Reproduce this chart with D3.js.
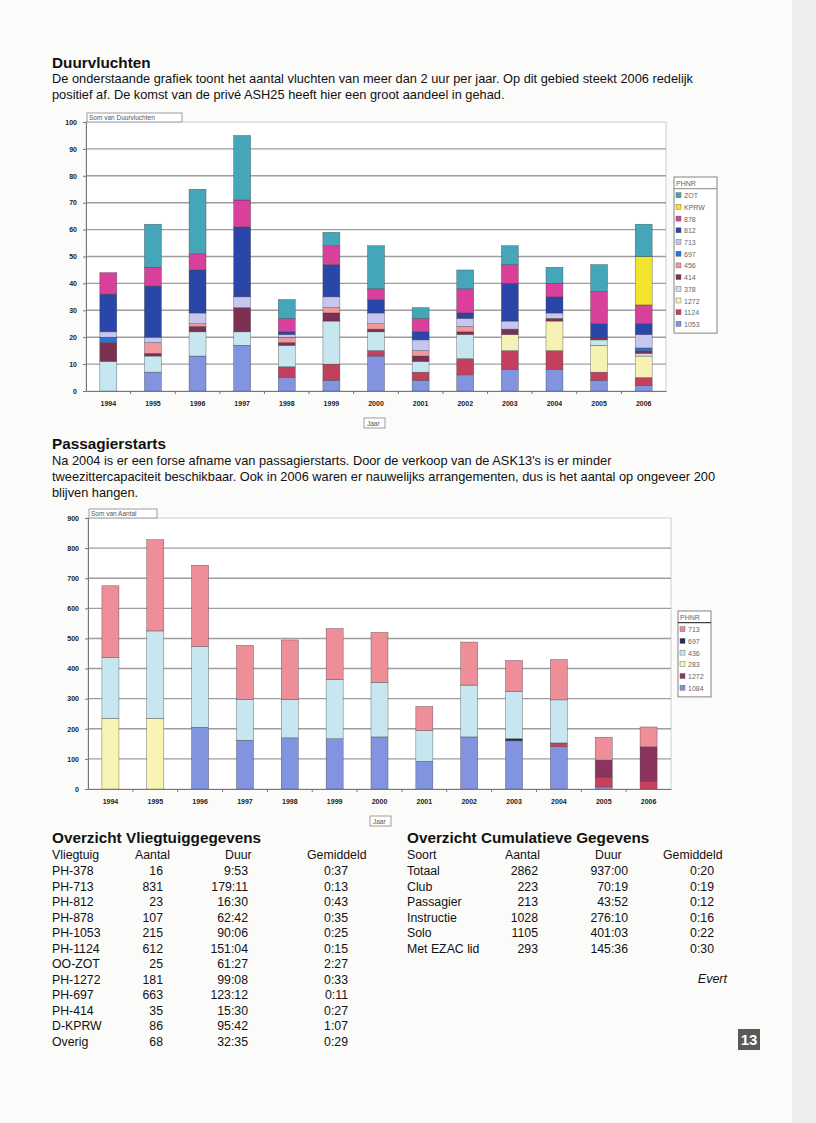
<!DOCTYPE html>
<html>
<head>
<meta charset="utf-8">
<script src="https://d3js.org/d3.v7.min.js"></script>
<style>
  body { margin: 0; background: #fbfbfa; }
  svg text { font-family: "Liberation Sans", Arial, sans-serif; }
</style>
</head>
<body>
<div id="page"></div>
<script>
// ---- data ----
var years = ["1994","1995","1996","1997","1998","1999","2000","2001","2002","2003","2004","2005","2006"];

// Duurvluchten, series bottom -> top
var durKeys = ["1053","1124","1272","378","414","456","697","713","812","878","KPRW","ZOT"];
var dur1053 = [0,7,13,17,5,4,13,4,6,8,8,4,2];
var dur1124 = [0,0,0,0,4,6,2,3,6,7,7,3,3];
var dur1272 = [0,0,0,0,0,0,0,0,0,6,11,10,8];
var dur378  = [11,6,9,5,8,16,7,4,9,0,0,2,1];
var dur414  = [7,1,2,9,1,3,1,2,1,2,1,1,1];
var dur456  = [0,4,1,0,2,2,2,2,2,0,0,0,0];
var dur697  = [2,0,0,0,0,0,0,0,0,0,0,0,1];
var dur713  = [2,2,4,4,1,4,4,4,3,3,2,0,5];
var dur812  = [14,19,16,26,1,12,5,3,2,14,6,5,4];
var dur878  = [8,7,6,10,5,7,4,5,9,7,5,12,7];
var durKPRW = [0,0,0,0,0,0,0,0,0,0,0,0,18];
var durZOT  = [0,16,24,24,7,5,16,4,7,7,6,10,12];
var durColors = ["#8294e0","#c2405e","#f6f2b6","#c6e6f0","#7c3052","#f0989c","#2a72d8","#c6c6ee","#2a46a8","#d8409c","#f2e42a","#44a6b8"];
var durLegend = ["ZOT","KPRW","878","812","713","697","456","414","378","1272","1124","1053"];
var durTicks = [0,10,20,30,40,50,60,70,80,90,100];

// Passagierstarts, series bottom -> top
var pasKeys = ["1084","697","1124","1272","283","436","713"];
var pas1084 = [0,0,205,162,170,167,173,92,173,160,141,7,0];
var pas697  = [0,0,0,0,0,0,0,0,0,7,0,0,0];
var pas1124 = [0,0,0,0,0,0,0,0,0,0,12,33,25];
var pas1272 = [0,0,0,0,0,0,0,0,0,0,0,56,115];
var pas283  = [235,235,0,0,0,0,0,0,0,0,0,0,0];
var pas436  = [202,290,269,136,128,197,181,102,172,156,143,0,0];
var pas713  = [238,303,269,179,197,169,166,80,143,104,134,76,66];
var pasColors = ["#8294e0","#222a5e","#c8405c","#8c3460","#f8f4b4","#c6e6f0","#ee8e98"];
var pasLegend = ["713","697","436","283","1272","1084"];
var pasTicks = [0,100,200,300,400,500,600,700,800,900];

// tables
var vliegCols = ["Vliegtuig","Aantal","Duur","Gemiddeld"];
var vliegNames = ["PH-378","PH-713","PH-812","PH-878","PH-1053","PH-1124","OO-ZOT","PH-1272","PH-697","PH-414","D-KPRW","Overig"];
var vliegAantal = ["16","831","23","107","215","612","25","181","663","35","86","68"];
var vliegDuur = ["9:53","179:11","16:30","62:42","90:06","151:04","61:27","99:08","123:12","15:30","95:42","32:35"];
var vliegGem = ["0:37","0:13","0:43","0:35","0:25","0:15","2:27","0:33","0:11","0:27","1:07","0:29"];

var cumCols = ["Soort","Aantal","Duur","Gemiddeld"];
var cumNames = ["Totaal","Club","Passagier","Instructie","Solo","Met EZAC lid"];
var cumAantal = ["2862","223","213","1028","1105","293"];
var cumDuur = ["937:00","70:19","43:52","276:10","401:03","145:36"];
var cumGem = ["0:20","0:19","0:12","0:16","0:22","0:30"];

// ---- page ----
var svg = d3.select("#page").append("svg")
    .attr("width", 816).attr("height", 1123);

svg.append("rect").attr("width", 816).attr("height", 1123).attr("fill", "#fbfbfa");
svg.append("rect").attr("x", 792).attr("y", 0).attr("width", 24).attr("height", 1123).attr("fill", "#ededed");

function heading(txt, y) {
  svg.append("text").attr("x", 52).attr("y", y)
    .attr("font-size", 15.3).attr("font-weight", "bold").attr("fill", "#111").text(txt);
}
function para(lines, y0) {
  lines.forEach(function(l, i) {
    svg.append("text").attr("x", 52).attr("y", y0 + i * 16)
      .attr("font-size", 12.8).attr("fill", "#111").text(l);
  });
}

heading("Duurvluchten", 68);
para(["De onderstaande grafiek toont het aantal vluchten van meer dan 2 uur per jaar. Op dit gebied steekt 2006 redelijk",
      "positief af. De komst van de privé ASH25 heeft hier een groot aandeel in gehad."], 83);

heading("Passagierstarts", 449);
para(["Na 2004 is er een forse afname van passagierstarts. Door de verkoop van de ASK13's is er minder",
      "tweezittercapaciteit beschikbaar. Ook in 2006 waren er nauwelijks arrangementen, dus is het aantal op ongeveer 200",
      "blijven hangen."], 465);

function stackedChart(o) {
  var rows = years.map(function(yr, i) {
    var r = {year: yr};
    o.keys.forEach(function(k, j) { r[k] = o.values[j][i]; });
    return r;
  });
  var series = d3.stack().keys(o.keys)(rows);
  var color = d3.scaleOrdinal().domain(o.keys).range(o.colors);

  var x = d3.scaleBand().domain(years).range([o.left, o.right]).paddingInner(0.62).paddingOuter(0.31);
  var y = d3.scaleLinear().domain([0, o.max]).range([o.bottom, o.top]);

  var g = svg.append("g");
  g.append("rect").attr("x", o.left).attr("y", o.top)
    .attr("width", o.right - o.left).attr("height", o.bottom - o.top)
    .attr("fill", "#fff").attr("stroke", "#cfcfcf");

  g.selectAll("line.grid").data(o.ticks.filter(function(t) { return t > 0 && t < o.max; }))
    .enter().append("line").attr("class", "grid")
    .attr("x1", o.left).attr("x2", o.right)
    .attr("y1", function(d) { return y(d); }).attr("y2", function(d) { return y(d); })
    .attr("stroke", "#9e9e9e").attr("stroke-width", 1.4);

  var yAxis = g.append("g").attr("transform", "translate(" + o.left + ",0)")
    .call(d3.axisLeft(y).tickValues(o.ticks).tickSize(3).tickPadding(o.tickPad));
  yAxis.select(".domain").attr("stroke", "#777");
  yAxis.selectAll(".tick line").attr("stroke", "#777");
  yAxis.selectAll("text").attr("font-size", 7).attr("font-weight", "bold").attr("fill", "#222")
    .attr("font-family", "'Liberation Sans', Arial, sans-serif");

  g.selectAll("g.layer").data(series).enter().append("g").attr("class", "layer")
    .attr("fill", function(d) { return color(d.key); })
    .selectAll("rect").data(function(d) { return d; }).enter().append("rect")
    .attr("x", function(d) { return x(d.data.year); })
    .attr("width", x.bandwidth())
    .attr("y", function(d) { return y(d[1]); })
    .attr("height", function(d) { return y(d[0]) - y(d[1]); })
    .attr("stroke", "#3a3a3a").attr("stroke-width", 0.5).attr("stroke-opacity", 0.7);

  var xAxis = g.append("g").attr("transform", "translate(0," + o.bottom + ")")
    .call(d3.axisBottom(x).tickSize(0).tickPadding(10));
  xAxis.select(".domain").attr("stroke", "#777");
  xAxis.selectAll("text").attr("font-size", 7).attr("font-weight", "bold").attr("fill", "#222")
    .attr("font-family", "'Liberation Sans', Arial, sans-serif");

  // category separators
  var step = x.step();
  g.selectAll("line.sep").data(years.slice(1)).enter().append("line")
    .attr("x1", function(d) { return x(d) - step * 0.31; })
    .attr("x2", function(d) { return x(d) - step * 0.31; })
    .attr("y1", o.bottom).attr("y2", o.bottom + 3)
    .attr("stroke", "#777");

  // field buttons
  g.append("rect").attr("x", o.left + 1).attr("y", o.top - 9).attr("width", o.fieldW).attr("height", 9)
    .attr("fill", "#fff").attr("stroke", "#777").attr("stroke-width", 0.7);
  g.append("text").attr("x", o.left + 3).attr("y", o.top - 2).attr("font-size", 6.5).attr("fill", "#555").text(o.field);

  g.append("rect").attr("x", o.jaarX).attr("y", o.bottom + 27).attr("width", 21).attr("height", 10)
    .attr("fill", "#fff").attr("stroke", "#777").attr("stroke-width", 0.7);
  g.append("text").attr("x", o.jaarX + 3).attr("y", o.bottom + 35).attr("font-size", 6.5).attr("fill", "#555").text("Jaar");

  // legend
  var lg = g.append("g").attr("transform", "translate(" + o.legX + "," + o.legY + ")");
  var lh = 11.7;
  lg.append("rect").attr("x", 0).attr("y", 0).attr("width", o.legW).attr("height", (o.legend.length + 1) * lh + 4)
    .attr("fill", "#fff").attr("stroke", "#666").attr("stroke-width", 0.8);
  lg.append("text").attr("x", 2).attr("y", 9).attr("font-size", 7).attr("fill", "#666").text("PHNR");
  lg.append("line").attr("x1", 0).attr("x2", o.legW).attr("y1", lh).attr("y2", lh)
    .attr("stroke", o.legLine).attr("stroke-width", 1);
  var items = lg.selectAll("g.item").data(o.legend).enter().append("g")
    .attr("transform", function(d, i) { return "translate(2," + (lh * (i + 1) + 3) + ")"; });
  items.append("rect").attr("width", 5).attr("height", 5).attr("y", 1)
    .attr("fill", function(d) { return color(d); }).attr("stroke", "#555").attr("stroke-width", 0.4);
  items.append("text").attr("x", 8).attr("y", 6.5).attr("font-size", 7).attr("fill", "#666").text(function(d) { return d; });
}

stackedChart({
  keys: durKeys,
  values: [dur1053, dur1124, dur1272, dur378, dur414, dur456, dur697, dur713, dur812, dur878, durKPRW, durZOT],
  colors: durColors, legend: durLegend, ticks: durTicks, max: 100,
  left: 86, right: 666, top: 122, bottom: 391, tickPad: 6,
  field: "Som van Duurvluchten", fieldW: 95, jaarX: 364,
  legX: 674, legY: 177, legW: 43, legLine: "#888"
});

stackedChart({
  keys: pasKeys,
  values: [pas1084, pas697, pas1124, pas1272, pas283, pas436, pas713],
  colors: pasColors, legend: pasLegend, ticks: pasTicks, max: 900,
  left: 88, right: 671, top: 518, bottom: 789, tickPad: 6,
  field: "Som van Aantal", fieldW: 68, jaarX: 370,
  legX: 678, legY: 611, legW: 33, legLine: "#111"
});

// ---- tables ----
function table(title, x0, cols, colX, colAnchor, data) {
  svg.append("text").attr("x", x0).attr("y", 843).attr("font-size", 15.3).attr("font-weight", "bold")
    .attr("fill", "#111").text(title);
  cols.forEach(function(c, j) {
    svg.append("text").attr("x", colX[j][0]).attr("y", 859).attr("text-anchor", colX[j][2])
      .attr("font-size", 12.3).attr("fill", "#111").text(c);
  });
  data[0].forEach(function(_, i) {
    data.forEach(function(col, j) {
      svg.append("text").attr("x", colX[j][1]).attr("y", 875 + i * 15.5)
        .attr("text-anchor", colAnchor[j]).attr("font-size", 12.3).attr("fill", "#111").text(col[i]);
    });
  });
}

table("Overzicht Vliegtuiggegevens", 52, vliegCols,
  [[52, 52, "start"], [135, 163, "start"], [225, 248, "start"], [307, 348, "start"]],
  ["start", "end", "end", "end"],
  [vliegNames, vliegAantal, vliegDuur, vliegGem]);

table("Overzicht Cumulatieve Gegevens", 407, cumCols,
  [[407, 407, "start"], [505, 538, "start"], [595, 628, "start"], [663, 714, "start"]],
  ["start", "end", "end", "end"],
  [cumNames, cumAantal, cumDuur, cumGem]);

svg.append("text").attr("x", 727).attr("y", 983).attr("text-anchor", "end")
  .attr("font-size", 12.5).attr("font-style", "italic").attr("fill", "#111").text("Evert");

svg.append("rect").attr("x", 738).attr("y", 1029).attr("width", 22).attr("height", 21).attr("fill", "#5a5a5a");
svg.append("text").attr("x", 749).attr("y", 1045).attr("text-anchor", "middle")
  .attr("font-size", 15).attr("font-weight", "bold").attr("fill", "#fff").text("13");
</script>
</body>
</html>
